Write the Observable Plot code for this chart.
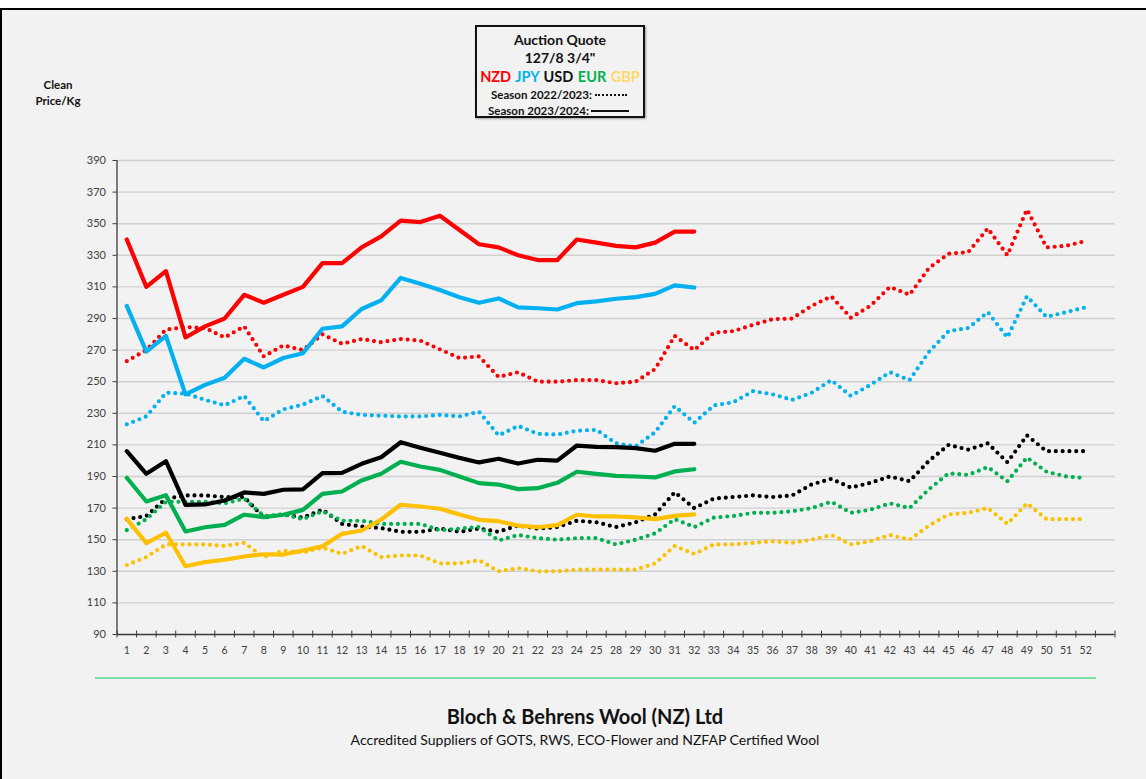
<!DOCTYPE html>
<html>
<head>
<meta charset="utf-8">
<script src="https://cdn.jsdelivr.net/npm/d3@7"></script>
<script src="https://cdn.jsdelivr.net/npm/@observablehq/plot@0.6"></script>
<style>
  html, body { margin: 0; padding: 0; background: #ffffff; }
  #page { position: relative; width: 1146px; height: 779px; overflow: hidden; font-family: Lato, "Open Sans", sans-serif; }
  #frame { position: absolute; left: 0; top: 8px; width: 1146px; height: 771px; background: #f2f2f2; border-top: 2px solid #000; border-left: 2px solid #000; box-sizing: border-box; }
  #chart { position: absolute; left: 0; top: 0; }
  #legend { position: absolute; left: 475px; top: 25px; width: 170px; height: 93px; box-sizing: border-box; border: 2px solid #111; box-shadow: 1px 1px 2px rgba(0,0,0,0.35); background: #f2f2f2; text-align: center; font-weight: 700; color: #111; white-space: nowrap; }
  #legend .l1 { position: absolute; left: 0; right: 0; top: 4px; font-size: 14px; }
  #legend .l2 { position: absolute; left: 0; right: 0; top: 22px; font-size: 14px; }
  #legend .l3 { position: absolute; left: 0; right: 0; top: 41px; font-size: 14.5px; word-spacing: 1px; }
  #legend .l4 { position: absolute; left: 14px; top: 61px; font-size: 11.5px; }
  #legend .l5 { position: absolute; left: 11px; top: 77px; font-size: 11.5px; }
  .dots { display: inline-block; width: 32px; height: 2px; border-bottom: 2px dotted #111; vertical-align: 3px; margin-left: 3px; }
  .solid { display: inline-block; width: 38px; height: 0; border-bottom: 2.5px solid #111; vertical-align: 3px; margin-left: 2px; }
  #ylab { position: absolute; left: 19px; top: 77px; width: 78px; text-align: center; font-size: 11.5px; font-weight: 700; line-height: 16px; color: #111; }
  #sep { position: absolute; left: 95px; top: 677px; width: 1001px; height: 2px; background: #7fe0a6; }
  #title { position: absolute; left: 0; width: 1170px; top: 704px; text-align: center; font-size: 20px; font-weight: 700; color: #111; }
  #subtitle { position: absolute; left: 0; width: 1170px; top: 731px; text-align: center; font-size: 14px; color: #111; }
</style>
</head>
<body>
<div id="page">
  <div id="frame"></div>
  <div id="chart"></div>
  <div id="ylab">Clean<br>Price/Kg</div>
  <div id="legend">
    <div class="l1">Auction Quote</div>
    <div class="l2">127/8 3/4"</div>
    <div class="l3"><span style="color:#ff0000">NZD</span> <span style="color:#00b0f0">JPY</span> <span style="color:#111">USD</span> <span style="color:#00b050">EUR</span> <span style="color:#ffd966">GBP</span></div>
    <div class="l4">Season 2022/2023:<span class="dots"></span></div>
    <div class="l5">Season 2023/2024:<span class="solid"></span></div>
  </div>
  <div id="sep"></div>
  <div id="title">Bloch &amp; Behrens Wool (NZ) Ltd</div>
  <div id="subtitle">Accredited Suppliers of GOTS, RWS, ECO-Flower and NZFAP Certified Wool</div>
</div>
<script>
// Sale week labels (weeks 26 and 27 have no sale)
const weeks = [1,2,3,4,5,6,7,8,9,10,11,12,13,14,15,16,17,18,19,20,21,22,23,24,25,
               28,29,30,31,32,33,34,35,36,37,38,39,40,41,42,43,44,45,46,47,48,49,50,51,52];
const currencies = ["NZD", "JPY", "USD", "EUR", "GBP"];
const currencyColors = ["#ff0000", "#00b0f0", "#000000", "#00b050", "#ffc000"];
const yTicks = [90,110,130,150,170,190,210,230,250,270,290,310,330,350,370,390];

// Season 2023/2024 (solid)
const nzd2324 = [340,310,320,278,285,290,305,300,305,310,325,325,335,342,352,351,355,346,337,335,330,327,327,340,338,336,335,338,345,345];
const jpy2324 = [298,269,279,242,248,252.5,264.5,259,265,268,283.5,285,296,301.5,315.7,312,308,303.5,300,302.7,297,296.5,295.7,299.7,300.8,302.5,303.5,305.6,311,309.6];
const usd2324 = [206,191.7,199.7,172.1,172.3,174.8,179.9,179,181.6,181.8,192.1,192.3,198,202.2,211.7,208.2,205,201.8,198.9,201.2,198.2,200.6,200.1,209.6,208.8,208.6,208,206.3,210.7,210.7];
const eur2324 = [189.2,174.2,178.2,155.2,157.9,159.4,165.8,164.3,165.8,168.9,179,180.5,187.5,191.7,199.3,196.3,194.2,190,185.8,184.9,182,182.6,186,193,191.7,190.4,190,189.4,193.2,194.6];
const gbp2324 = [163.2,147.8,154.4,133.2,135.8,137.3,139.4,140.8,140.6,143.2,145.9,153.7,155.8,162.8,172.1,171,169.6,166,162.6,161.7,158.9,157.9,159.2,165.8,164.7,164.7,164.1,163,165.1,166];

// Season 2022/2023 (dotted)
const nzd2223 = [263,270,283,284.5,284,278,285,266,273,270,280,274,277,275,277,276,270.5,265,266,253,256,250,250,251,251,249,250,258,279,270,281,282,286,289.5,290,298,304,290.5,298,310,305,322,331,332,347,330,359,335,336,339];
const jpy2223 = [223,228,243,242.5,238.5,235,241,225,232.5,235.5,241,231,229,228.5,228,228,229,228,231,216,222,217,216.5,219,219.5,211,209,218,234.5,224,235,237,244,242,238.5,243,251,241,248,256,251,269,282,284,294,278,304,291,294,297];
const usd2223 = [163,165,176,178,178,177,177,164,166,164,169,160,158.4,157.3,155,155,157,155,157,155,159,157,158,162,161,158,161,166,180,170,176,177,178,177,178,185,188.5,183,186,190,187,200,210,207,211,199,216,206,206,206];
const eur2223 = [156,163,174,174,174,173,176,165,166,163,168,162,162,160,160,160,156,157,158,149.5,153,151,150,151,151,147,150,154,163,158,164,165,167,167,168,170,174,167,169,173,170,182,192,191,196,187,202,193,190,189];
const gbp2223 = [134,139,147,147,147,146,148,139,143,142,145,141,146,139,140,140,135,135,137,130,132,130,130,131,131,131,131,135,146,141,147,147,148,149,148,150,153,147,149,153,150,159,166,167,170,160,173,163,163,163];

const solidSeries = {NZD: nzd2324, JPY: jpy2324, USD: usd2324, EUR: eur2324, GBP: gbp2324};
const dottedSeries = {NZD: nzd2223, JPY: jpy2223, USD: usd2223, EUR: eur2223, GBP: gbp2223};

function toRows(series) {
  const rows = [];
  for (const c of currencies) series[c].forEach((v, i) => rows.push({pos: i + 0.5, week: weeks[i], value: v, currency: c}));
  return rows;
}
const solidRows = toRows(solidSeries);
const dottedRows = toRows(dottedSeries);
const centers = weeks.map((w, i) => i + 0.5);
const boundaries = d3.range(0, weeks.length + 2);
const gridTicks = yTicks.filter(t => t > 90);

const chart = Plot.plot({
  width: 1146,
  height: 664,
  marginTop: 160,
  marginBottom: 30,
  marginLeft: 116.5,
  marginRight: 31.5,
  style: {background: "transparent", fontFamily: "Lato, 'Open Sans', sans-serif", color: "#404040"},
  x: {type: "linear", domain: [0, weeks.length + 1]},
  y: {domain: [90, 390]},
  color: {domain: currencies, range: currencyColors},
  marks: [
    Plot.ruleY(gridTicks, {stroke: "#d0d0d0", strokeWidth: 1.4}),
    Plot.ruleY([90], {stroke: "#3a3a3a", strokeWidth: 1.3}),
    Plot.ruleX([0], {y1: 90, y2: 390, stroke: "#3a3a3a", strokeWidth: 1.3}),
    Plot.ruleX(boundaries, {y1: 87.8, y2: 92.2, stroke: "#3a3a3a", strokeWidth: 1}),
    Plot.axisY({ticks: yTicks, tickSize: 4, tickPadding: 7, fontSize: 11, label: null, stroke: "#3a3a3a"}),
    Plot.axisX({ticks: centers, tickSize: 0, tickPadding: 12, fontSize: 10.5, label: null, tickFormat: d => String(weeks[Math.round(d - 0.5)])}),
    Plot.lineY(dottedRows, {x: "pos", y: "value", z: "currency", stroke: "currency", strokeWidth: 4.2, strokeDasharray: "0 6.8", strokeLinecap: "round", strokeLinejoin: "round"}),
    Plot.lineY(solidRows, {x: "pos", y: "value", z: "currency", stroke: "currency", strokeWidth: 4.2, strokeLinejoin: "round"})
  ]
});
document.getElementById("chart").appendChild(chart);
</script>
</body>
</html>
